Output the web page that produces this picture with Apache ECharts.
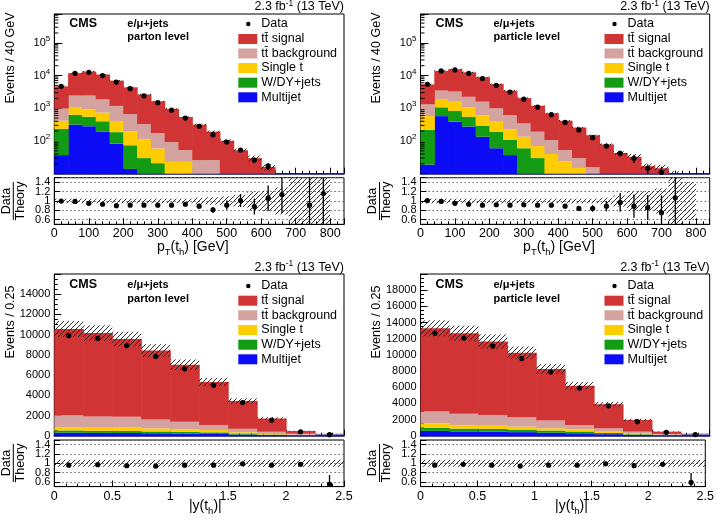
<!DOCTYPE html>
<html>
<head>
<meta charset="utf-8">
<script src="https://cdn.jsdelivr.net/npm/echarts@6/dist/echarts.min.js"></script>
<style>
html,body{margin:0;padding:0;background:#ffffff;}
#chart{width:717px;height:524px;}
</style>
</head>
<body>
<div id="chart"></div>
<script>
// ===== bin edges / tick labels =====
const ptEdges = [0,40,80,120,160,200,240,280,320,360,400,440,480,520,560,600,640,680,720,760,800];
const rapEdges = [0,0.25,0.5,0.75,1,1.25,1.5,1.75,2,2.25,2.5];
const logTickExponents = [2,3,4,5];
const logMinorMultipliers = [2,3,4,5,6,7,8,9];
const ratioTickLabels = [0.6,0.8,1,1.2,1.4];
const legendLabels = ['Data','tt\u0304 signal','tt\u0304 background','Single t','W/DY+jets','Multijet'];

// ===== top-left: pT(th), parton level =====
const ptPartonSignal   = [3700,9370,10810,8880,5820,3710,2310,1456,867,487,291,167,102,52,30,16,7,4,3,2];
const ptPartonTtBkg    = [563,1400,1520,1130,790,465,218,115,70,30,26,26,0,0,0,0,0,0,0,0];
const ptPartonSingleT  = [182,420,380,340,204,121,82,38,23,23,0,0,0,0,0,0,0,0,0,0];
const ptPartonWDY      = [198,312,268,205,103,60,30,21,0,0,0,0,0,0,0,0,0,0,0,0];
const ptPartonMultijet = [37,318,282,195,83,14,0,0,0,0,0,0,0,0,0,0,0,0,0,0];
const ptPartonData     = [4680,11700,12600,10000,6300,3980,2400,1480,875,500,282,156,93,53,26,17,8,0,2.7,2.3];
const ptPartonRatio    = [1.0,0.99,0.95,0.93,0.90,0.91,0.91,0.91,0.91,0.93,0.89,0.81,0.91,1.01,0.88,1.06,1.14,null,0.91,1.16];
const ptPartonRatioErr = [0.02,0.015,0.015,0.015,0.02,0.02,0.025,0.03,0.035,0.04,0.05,0.06,0.1,0.14,0.17,0.27,0.4,null,0.6,0.7];
const ptPartonUnc      = [0.05,0.05,0.05,0.05,0.05,0.05,0.05,0.05,0.05,0.05,0.07,0.08,0.1,0.13,0.2,0.22,0.29,0.7,0.7,0.7];

// ===== top-right: pT(th), particle level =====
const ptParticleSignal   = [4030,10470,12340,10340,7310,4480,2835,1705,998,593,363,228,134,79,43,33,17,14.7,7,3];
const ptParticleTtBkg    = [745,1550,1650,1170,975,610,387,210,122,67,29,15,16,0,0,0,0,0,0,0];
const ptParticleSingleT  = [357,850,760,520,320,198,121,75,40,40,24,15,0,0,0,0,0,0,0,0];
const ptParticleWDY      = [199,495,440,273,160,132,70,60,30,0,0,0,0,0,0,0,0,0,0,0];
const ptParticleMultijet = [19,575,390,277,135,60,37,0,0,0,0,0,0,0,0,0,0,0,0,0];
const ptParticleData     = [5400,13800,14800,11700,8100,5040,3140,1890,1080,635,370,217,126,70,42,29.5,14.6,11,7.5,0];
const ptParticleRatio    = [1.01,0.99,0.95,0.93,0.91,0.92,0.91,0.92,0.91,0.91,0.89,0.84,0.84,0.89,0.97,0.89,0.86,0.75,1.07,null];
const ptParticleRatioErr = [0.02,0.015,0.015,0.015,0.02,0.02,0.025,0.03,0.035,0.04,0.04,0.05,0.07,0.11,0.2,0.25,0.27,0.37,0.55,null];
const ptParticleUnc      = [0.05,0.05,0.05,0.05,0.05,0.05,0.05,0.05,0.05,0.05,0.05,0.05,0.05,0.07,0.12,0.21,0.21,0.27,0.7,0.41];

// ===== bottom-left: |y(th)|, parton level =====
const rapPartonSignal   = [8530,8260,7700,6820,5640,4260,2760,1310,260,35];
const rapPartonTtBkg    = [1210,1110,1020,890,760,490,340,220,100,10];
const rapPartonSingleT  = [300,310,380,300,240,230,120,60,40,10];
const rapPartonWDY      = [220,200,200,180,170,160,110,50,30,10];
const rapPartonMultijet = [300,280,270,240,210,170,110,60,30,120];
const rapPartonData     = [9900,9640,8920,7840,6620,4980,3280,1540,390,100];
const rapPartonRatio    = [0.96,0.97,0.95,0.94,0.96,0.96,0.99,0.96,0.98,0.55];
const rapPartonRatioErr = [0.01,0.01,0.01,0.012,0.012,0.015,0.018,0.025,0.045,0.2];
const rapPartonUnc      = [0.075,0.075,0.075,0.075,0.075,0.075,0.075,0.075,0.075,0.075];

// ===== bottom-right: |y(th)|, particle level =====
const rapParticleSignal   = [10290,9960,9090,7970,6390,4850,2990,1450,280,60];
const rapParticleTtBkg    = [1460,1400,1330,1160,950,540,410,210,100,15];
const rapParticleSingleT  = [530,420,400,360,280,270,160,110,40,10];
const rapParticleWDY      = [400,340,340,320,270,220,150,80,40,15];
const rapParticleMultijet = [600,540,500,440,370,300,190,100,40,150];
const rapParticleData     = [12660,12070,11080,9540,7880,5890,3690,1740,415,140];
const rapParticleRatio    = [0.96,0.98,0.96,0.94,0.96,0.96,0.99,0.95,0.98,0.59];
const rapParticleRatioErr = [0.01,0.01,0.01,0.012,0.012,0.015,0.018,0.025,0.045,0.2];
const rapParticleUnc      = [0.075,0.075,0.075,0.075,0.075,0.075,0.075,0.075,0.075,0.075];

// ===== styling =====
const FONT = '"Liberation Sans", Arial, Helvetica, sans-serif';
const RED = '#d03434', PINK = '#d4a29f', YELLOW = '#ffcc00', GREEN = '#139b13', BLUE = '#0b0bf5';
const compColors = [BLUE, GREEN, YELLOW, PINK, RED];
const legendColors = [null, RED, PINK, YELLOW, GREEN, BLUE];

function makeHatch() {
  const s = 5;
  const c = document.createElement('canvas');
  c.width = s; c.height = s;
  const g = c.getContext('2d');
  g.strokeStyle = '#1a1a1a';
  g.lineWidth = 0.9;
  g.beginPath();
  g.moveTo(0, s); g.lineTo(s, 0);
  g.moveTo(-1, 1); g.lineTo(1, -1);
  g.moveTo(s - 1, s + 1); g.lineTo(s + 1, s - 1);
  g.stroke();
  return c;
}
const hatch = makeHatch();

const panels = [
  { L: 54.3, W: 289.7, mainTop: 14, mainH: 159.7, ratioTop: 177.7, ratioH: 46.6,
    edges: ptEdges, comps: [ptPartonMultijet, ptPartonWDY, ptPartonSingleT, ptPartonTtBkg, ptPartonSignal],
    data: ptPartonData, ratio: ptPartonRatio, ratioErr: ptPartonRatioErr, unc: ptPartonUnc,
    log: true, yMin: 10, yMax: 7.6e5, xMax: 840, xInt: 100, level: 'parton level', bottomRow: false },
  { L: 420.5, W: 289.2, mainTop: 14, mainH: 159.7, ratioTop: 177.7, ratioH: 46.6,
    edges: ptEdges, comps: [ptParticleMultijet, ptParticleWDY, ptParticleSingleT, ptParticleTtBkg, ptParticleSignal],
    data: ptParticleData, ratio: ptParticleRatio, ratioErr: ptParticleRatioErr, unc: ptParticleUnc,
    log: true, yMin: 10, yMax: 7.6e5, xMax: 840, xInt: 100, level: 'particle level', bottomRow: false },
  { L: 54.3, W: 289.7, mainTop: 274, mainH: 161.7, ratioTop: 440, ratioH: 46.6,
    edges: rapEdges, comps: [rapPartonMultijet, rapPartonWDY, rapPartonSingleT, rapPartonTtBkg, rapPartonSignal],
    data: rapPartonData, ratio: rapPartonRatio, ratioErr: rapPartonRatioErr, unc: rapPartonUnc,
    log: false, yMin: 0, yMax: 16000, yInt: 2000, xMax: 2.5, xInt: 0.5, level: 'parton level', bottomRow: true },
  { L: 420.5, W: 289.2, mainTop: 274, mainH: 161.7, ratioTop: 440, ratioH: 46.6,
    edges: rapEdges, comps: [rapParticleMultijet, rapParticleWDY, rapParticleSingleT, rapParticleTtBkg, rapParticleSignal],
    data: rapParticleData, ratio: rapParticleRatio, ratioErr: rapParticleRatioErr, unc: rapParticleUnc,
    log: false, yMin: 0, yMax: 20000, yInt: 2000, xMax: 2.5, xInt: 0.5, level: 'particle level', bottomRow: true }
];

function rectRender(fill) {
  const solid = typeof fill === 'string';
  return function (params, api) {
    const x0 = api.value(0), x1 = api.value(1), lo = api.value(2), hi = api.value(3);
    const p0 = api.coord([x0, hi]);
    const p1 = api.coord([x1, lo]);
    const cs = params.coordSys;
    const r = echarts.graphic.clipRectByRect(
      { x: p0[0], y: p0[1], width: p1[0] - p0[0], height: p1[1] - p0[1] },
      { x: cs.x, y: cs.y, width: cs.width, height: cs.height });
    if (!r) return;
    if (solid) {
      // small overlap to avoid anti-aliasing seams between adjacent bins
      r.width += 0.6;
      if (r.x + r.width > cs.x + cs.width) r.width = cs.x + cs.width - r.x;
    }
    return { type: 'rect', shape: r, style: { fill: fill, stroke: null } };
  };
}

function pointRender(isLog) {
  return function (params, api) {
    const cs = params.coordSys;
    const x = api.value(0), y = api.value(1), e = api.value(2);
    const c = api.coord([x, y]);
    let pTop = api.coord([x, y + e])[1];
    let pBot = (!isLog || y - e > 0) ? api.coord([x, y - e])[1] : cs.y + cs.height;
    pTop = Math.max(pTop, cs.y);
    pBot = Math.min(pBot, cs.y + cs.height);
    const children = [];
    if (pBot > pTop) children.push({ type: 'line', shape: { x1: c[0], y1: pTop, x2: c[0], y2: pBot }, style: { stroke: '#000', lineWidth: 1.3 } });
    if (c[1] >= cs.y - 0.5 && c[1] <= cs.y + cs.height + 0.5)
      children.push({ type: 'circle', shape: { cx: c[0], cy: c[1], r: 2.6 }, style: { fill: '#000' } });
    return { type: 'group', children: children };
  };
}

function minorTickRender(params, api) {
  const cs = params.coordSys;
  const p = api.coord([0, api.value(1)]);
  if (p[1] < cs.y || p[1] > cs.y + cs.height) return;
  return { type: 'line', shape: { x1: cs.x, y1: p[1], x2: cs.x + 4, y2: p[1] }, style: { stroke: '#000', lineWidth: 1 } };
}

const grids = [], xAxes = [], yAxes = [], series = [], graphics = [];

function xAxisCfg(gi, P, labels) {
  return {
    type: 'value', gridIndex: gi, min: 0, max: P.xMax, interval: P.xInt,
    axisLine: { show: true, lineStyle: { color: labels ? '#000' : '#1a1a8a', width: labels ? 1 : 1.6 } },
    axisTick: { show: true, inside: true, length: 6, lineStyle: { color: '#000' } },
    minorTick: { show: true, splitNumber: 5, length: 3, lineStyle: { color: '#000' } },
    axisLabel: { show: labels, color: '#000', fontSize: 12.5, fontFamily: FONT, margin: 3,
      formatter: function (v) { return v > P.edges[P.edges.length - 1] + 1e-9 ? '' : String(v); } },
    splitLine: { show: false }
  };
}

panels.forEach(function (P, idx) {
  const gm = 2 * idx, gr = 2 * idx + 1;
  grids.push({ left: P.L, top: P.mainTop, width: P.W, height: P.mainH, show: true, borderColor: '#000', borderWidth: 1, backgroundColor: 'transparent' });
  grids.push({ left: P.L, top: P.ratioTop, width: P.W, height: P.ratioH, show: true, borderColor: '#000', borderWidth: 1, backgroundColor: 'transparent' });
  xAxes.push(xAxisCfg(gm, P, false));
  xAxes.push(xAxisCfg(gr, P, true));

  if (P.log) {
    yAxes.push({
      type: 'log', logBase: 10, gridIndex: gm, min: P.yMin, max: P.yMax,
      axisLine: { show: true, lineStyle: { color: '#000' } },
      axisTick: { show: true, inside: true, length: 8, lineStyle: { color: '#000' } },
      axisLabel: {
        color: '#000', fontFamily: FONT, margin: 4,
        formatter: function (v) {
          const lg = Math.log10(v), e = Math.round(lg);
          if (Math.abs(lg - e) > 0.01 || logTickExponents.indexOf(e) < 0) return '';
          return '{b|10}{s|' + e + '}';
        },
        rich: {
          b: { fontSize: 11, lineHeight: 16, fontFamily: FONT, color: '#000' },
          s: { fontSize: 8, lineHeight: 8, verticalAlign: 'top', fontFamily: FONT, color: '#000' }
        }
      },
      splitLine: { show: false }
    });
  } else {
    yAxes.push({
      type: 'value', gridIndex: gm, min: P.yMin, max: P.yMax, interval: P.yInt,
      axisLine: { show: true, lineStyle: { color: '#000' } },
      axisTick: { show: true, inside: true, length: 7, lineStyle: { color: '#000' } },
      minorTick: { show: true, splitNumber: 4, length: 3.5, lineStyle: { color: '#000' } },
      axisLabel: { color: '#000', fontSize: 11, fontFamily: FONT, margin: 4, showMaxLabel: false,
        formatter: function (v) { return String(v); } },
      splitLine: { show: false }
    });
  }
  yAxes.push({
    type: 'value', gridIndex: gr, min: 0.5, max: 1.5, splitNumber: 5,
    axisLine: { show: true, lineStyle: { color: '#000' } },
    axisTick: { show: true, inside: true, length: 6, lineStyle: { color: '#000' } },
    axisLabel: { color: '#000', fontSize: 11, fontFamily: FONT, margin: 4,
      formatter: function (v) {
        for (let k = 0; k < ratioTickLabels.length; k++) if (Math.abs(v - ratioTickLabels[k]) < 1e-6) return String(ratioTickLabels[k]);
        return '';
      } },
    splitLine: { show: true, lineStyle: { color: '#666', type: [1.5, 2.5], width: 1 } }
  });

  // stacked histogram
  const n = P.edges.length - 1;
  const cum = new Array(n).fill(0);
  const total = new Array(n).fill(0);
  P.comps.forEach(function (arr) { for (let i = 0; i < n; i++) total[i] += arr[i]; });
  P.comps.forEach(function (arr, k) {
    const items = [];
    for (let i = 0; i < n; i++) {
      const lo = cum[i], hi = cum[i] + arr[i];
      cum[i] = hi;
      if (arr[i] <= 0) continue;
      if (P.log && hi <= P.yMin) continue;
      items.push([P.edges[i], P.edges[i + 1], P.log ? Math.max(lo, P.yMin * 0.5) : lo, hi]);
    }
    series.push({ type: 'custom', xAxisIndex: gm, yAxisIndex: gm, renderItem: rectRender(compColors[k]),
      data: items, encode: { x: [0, 1], y: [2, 3] }, z: 2, silent: true });
  });
  // uncertainty band (main)
  const bandMain = [];
  for (let i = 0; i < n; i++) {
    const hi = total[i] * (1 + P.unc[i]);
    if (total[i] <= 0 || (P.log && hi <= P.yMin)) continue;
    const lo = total[i] * (1 - P.unc[i]);
    bandMain.push([P.edges[i], P.edges[i + 1], P.log ? Math.max(lo, P.yMin * 0.5) : lo, hi]);
  }
  series.push({ type: 'custom', xAxisIndex: gm, yAxisIndex: gm, renderItem: rectRender({ image: hatch, repeat: 'repeat' }),
    data: bandMain, encode: { x: [0, 1], y: [2, 3] }, z: 3, silent: true });
  // data points (main)
  const pts = [];
  for (let i = 0; i < n; i++) {
    const d = P.data[i], r = P.ratio[i];
    if (!(d > 0) || r == null) continue;
    if (P.log && d <= P.yMin) continue;
    pts.push([(P.edges[i] + P.edges[i + 1]) / 2, d, d * P.ratioErr[i] / r]);
  }
  series.push({ type: 'custom', xAxisIndex: gm, yAxisIndex: gm, renderItem: pointRender(P.log),
    data: pts, encode: { x: 0, y: 1 }, z: 4, silent: true });
  // log minor ticks
  if (P.log) {
    const mt = [];
    for (let e = 1; e <= 5; e++) logMinorMultipliers.forEach(function (m) { mt.push([0, m * Math.pow(10, e)]); });
    series.push({ type: 'custom', xAxisIndex: gm, yAxisIndex: gm, renderItem: minorTickRender,
      data: mt, encode: { x: 0, y: 1 }, z: 5, silent: true });
  }
  // ratio band
  const bandR = [];
  for (let i = 0; i < n; i++) bandR.push([P.edges[i], P.edges[i + 1], 1 - P.unc[i], 1 + P.unc[i]]);
  series.push({ type: 'custom', xAxisIndex: gr, yAxisIndex: gr, renderItem: rectRender({ image: hatch, repeat: 'repeat' }),
    data: bandR, encode: { x: [0, 1], y: [2, 3] }, z: 3, silent: true });
  // ratio points
  const rp = [];
  for (let i = 0; i < n; i++) {
    if (P.ratio[i] == null) continue;
    rp.push([(P.edges[i] + P.edges[i + 1]) / 2, P.ratio[i], P.ratioErr[i]]);
  }
  series.push({ type: 'custom', xAxisIndex: gr, yAxisIndex: gr, renderItem: pointRender(false),
    data: rp, encode: { x: 0, y: 1 }, z: 4, silent: true });

  // ----- texts -----
  const R = P.L + P.W;
  const rows = P.bottomRow ? [286, 300.7, 315.3, 330, 344.7, 359.3] : [24, 39, 53.5, 68, 82.7, 97.3];
  const cmsY = P.bottomRow ? 285 : 24;
  const lvlY = P.bottomRow ? 299.3 : 36.7;
  const lumiY = P.bottomRow ? 267.5 : 6.8;
  const yTitleY = P.bottomRow ? 322 : 58;
  const dtY = P.bottomRow ? 463 : 201;
  const xTitleY = P.bottomRow ? 506 : 247;

  function T(x, y, text, style, rot) {
    const el = { type: 'text', x: x, y: y, z: 100, silent: true,
      style: Object.assign({ text: text, fill: '#000', fontFamily: FONT, fontSize: 12, align: 'left', verticalAlign: 'middle' }, style || {}) };
    if (rot) el.rotation = rot;
    graphics.push(el);
  }
  T(R, lumiY, '{n|2.3 fb}{p|-1}{n| (13 TeV)}', { align: 'right', rich: {
    n: { fontSize: 12.5, lineHeight: 16, fontFamily: FONT, fill: '#000' },
    p: { fontSize: 8.5, lineHeight: 9, verticalAlign: 'top', fontFamily: FONT, fill: '#000' } } });
  T(P.L + 15, cmsY, 'CMS', { fontSize: 12.5, fontWeight: 'bold' });
  T(P.L + 73, cmsY, 'e/\u03bc+jets', { fontSize: 11, fontWeight: 'bold' });
  T(P.L + 73, lvlY, P.level, { fontSize: 11, fontWeight: 'bold' });
  for (let k = 0; k < legendLabels.length; k++) {
    if (legendColors[k]) {
      graphics.push({ type: 'rect', z: 100, silent: true, shape: { x: P.L + 184, y: rows[k] - 5, width: 19, height: 10 }, style: { fill: legendColors[k] } });
    } else {
      graphics.push({ type: 'circle', z: 100, silent: true, shape: { cx: P.L + 194, cy: rows[k], r: 2.2 }, style: { fill: '#000' } });
    }
    T(P.L + 207, rows[k], legendLabels[k], { fontSize: 12.5 });
  }
  T(P.L - 44, yTitleY, P.bottomRow ? 'Events / 0.25' : 'Events / 40 GeV', { fontSize: 12.5, align: 'center' }, Math.PI / 2);
  T(P.L - 48, dtY, 'Data', { fontSize: 12.5, align: 'center' }, Math.PI / 2);
  T(P.L - 34, dtY, 'Theory', { fontSize: 12.5, align: 'center' }, Math.PI / 2);
  graphics.push({ type: 'line', z: 100, silent: true, shape: { x1: P.L - 41, y1: dtY - 19, x2: P.L - 41, y2: dtY + 19 }, style: { stroke: '#000', lineWidth: 1 } });
  if (P.bottomRow) {
    T(P.L + 151, xTitleY, '{n||y(t}{s|h}{n|)|}', { align: 'center', rich: {
      n: { fontSize: 14, lineHeight: 20, fontFamily: FONT, fill: '#000' },
      s: { fontSize: 9.5, lineHeight: 9, verticalAlign: 'bottom', fontFamily: FONT, fill: '#000' } } });
  } else {
    T(P.L + 138.5, xTitleY, '{n|p}{s|T}{n|(t}{s|h}{n|) [GeV]}', { align: 'center', rich: {
      n: { fontSize: 14, lineHeight: 20, fontFamily: FONT, fill: '#000' },
      s: { fontSize: 9.5, lineHeight: 9, verticalAlign: 'bottom', fontFamily: FONT, fill: '#000' } } });
  }
});

const chart = echarts.init(document.getElementById('chart'), null, { renderer: 'canvas' });
chart.setOption({
  animation: false,
  backgroundColor: '#ffffff',
  grid: grids,
  xAxis: xAxes,
  yAxis: yAxes,
  series: series,
  graphic: { elements: graphics }
});
</script>
</body>
</html>
